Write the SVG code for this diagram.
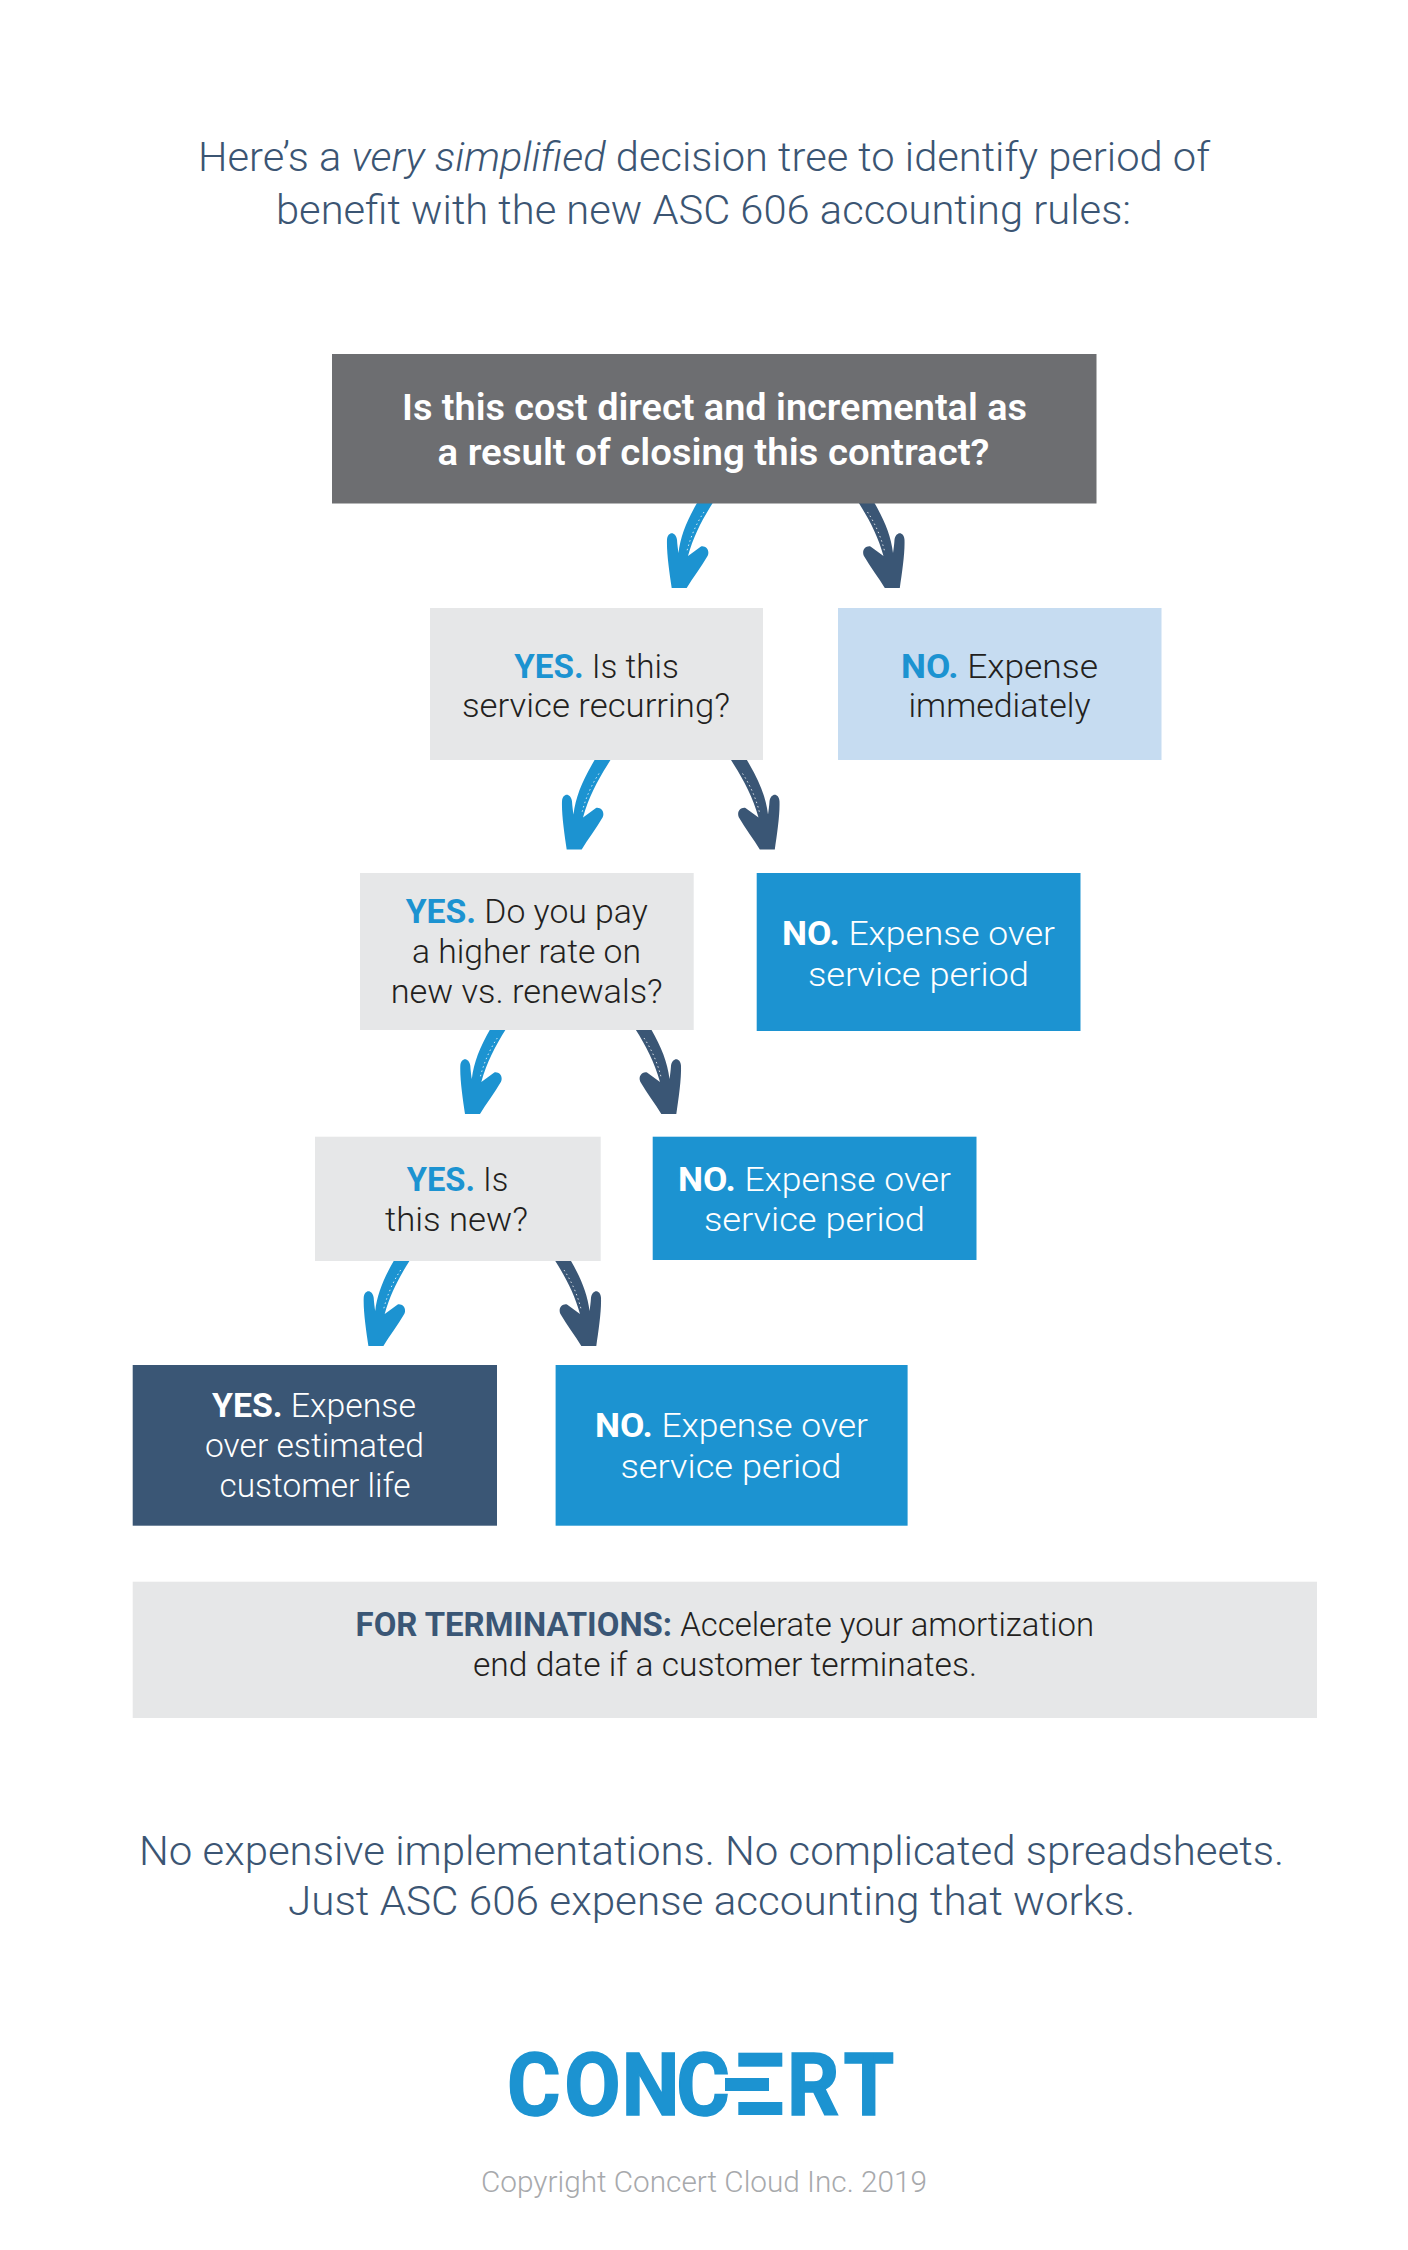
<svg xmlns="http://www.w3.org/2000/svg" width="1408" height="2250" viewBox="0 0 1408 2250">
<style>
text{font-family:Roboto,"Liberation Sans",sans-serif;font-weight:300}
.t{font-size:33px;fill:#231f20}
.w{fill:#fff}
.h{font-size:40px;fill:#3b5573}
.f{font-size:41px;fill:#3b5573}
.q{font-size:36px;font-weight:600;fill:#fff}
.b{font-weight:700}
.by{fill:#1c93d1}
.bn{fill:#3a5675}
.cy{fill:#1c93d1}
.cn{fill:#3a5675}
.gr{fill:#e6e7e8}
.lb{fill:#c6dcf1}
.bl{fill:#1c93d1}
.nv{fill:#3a5675}
.brush{fill:none;stroke:#fff;stroke-width:.8;stroke-dasharray:1.5 3}
</style>
<defs>
<g id="arrow">
<path d="M21,-92L37,-92L32.7,-85C22,-68 13.5,-52 8,-32L21,-41.5C26,-42.5 30,-37.5 27.7,-32.3C21,-21 12.7,-10 6.7,0L-8.3,0C-10.5,-15 -13.5,-35 -13,-48.3C-12.3,-56.5 -4.5,-57 -3,-48.3C-2.7,-43.3 -2,-38.3 -1.5,-35C0.5,-51.7 6.5,-66.7 17,-85Z"/>
<path class="brush" d="M24,-76C16,-64 10,-50 6.5,-35"/>
</g>
</defs>
<rect width="1408" height="2250" fill="#fff"/>
<g id="title">
<text class="h" x="198" y="171" textLength="1012" lengthAdjust="spacingAndGlyphs">Here’s a <tspan font-style="italic">very simplified</tspan> decision tree to identify period of</text>
<text class="h" x="276" y="224" textLength="855" lengthAdjust="spacingAndGlyphs">benefit with the new ASC 606 accounting rules:</text>
</g>
<g id="connectors">
<use href="#arrow" class="cy" transform="translate(680,588)"/>
<use href="#arrow" class="cn" transform="translate(891.5,588) scale(-1,1)"/>
<use href="#arrow" class="cy" transform="translate(575,849.5)"/>
<use href="#arrow" class="cn" transform="translate(766.5,849.5) scale(-1,1)"/>
<use href="#arrow" class="cy" transform="translate(473.3,1114)"/>
<use href="#arrow" class="cn" transform="translate(668,1114) scale(-1,1)"/>
<use href="#arrow" class="cy" transform="translate(376.7,1346)"/>
<use href="#arrow" class="cn" transform="translate(588,1346) scale(-1,1)"/>
</g>
<g id="node-q1">
<rect x="332" y="354" width="764.5" height="149.5" fill="#6d6e71"/>
<text class="q" x="402" y="420" textLength="625" lengthAdjust="spacingAndGlyphs">Is this cost direct and incremental as</text>
<text class="q" x="437.5" y="465" textLength="552" lengthAdjust="spacingAndGlyphs">a result of closing this contract?</text>
</g>
<g id="node-yes1">
<rect x="430" y="608" width="333" height="152" class="gr"/>
<text class="t" x="514.3" y="677.5" textLength="164.5" lengthAdjust="spacingAndGlyphs"><tspan class="b by">YES.</tspan> Is this</text>
<text class="t" x="462" y="717" textLength="268" lengthAdjust="spacingAndGlyphs">service recurring?</text>
</g>
<g id="node-no1">
<rect x="838" y="608" width="323.5" height="152" class="lb"/>
<text class="t" x="901" y="677.5" textLength="197" lengthAdjust="spacingAndGlyphs"><tspan class="b by">NO.</tspan> Expense</text>
<text class="t" x="908.5" y="717" textLength="182" lengthAdjust="spacingAndGlyphs">immediately</text>
</g>
<g id="node-yes2">
<rect x="360" y="873" width="333.7" height="157" class="gr"/>
<text class="t" x="405.7" y="923" textLength="242" lengthAdjust="spacingAndGlyphs"><tspan class="b by">YES.</tspan> Do you pay</text>
<text class="t" x="412" y="963" textLength="229" lengthAdjust="spacingAndGlyphs">a higher rate on</text>
<text class="t" x="390.7" y="1003" textLength="272" lengthAdjust="spacingAndGlyphs">new vs. renewals?</text>
</g>
<g id="node-no2">
<rect x="756.7" y="873" width="323.8" height="158" class="bl"/>
<text class="t w" x="782" y="944.7" textLength="273" lengthAdjust="spacingAndGlyphs"><tspan class="b">NO.</tspan> Expense over</text>
<text class="t w" x="808" y="985.5" textLength="221" lengthAdjust="spacingAndGlyphs">service period</text>
</g>
<g id="node-yes3">
<rect x="315" y="1136.7" width="285.7" height="124.3" class="gr"/>
<text class="t" x="406.7" y="1191" textLength="101.6" lengthAdjust="spacingAndGlyphs"><tspan class="b by">YES.</tspan> Is</text>
<text class="t" x="385" y="1231" textLength="143" lengthAdjust="spacingAndGlyphs">this new?</text>
</g>
<g id="node-no3">
<rect x="652.7" y="1136.7" width="323.8" height="123.3" class="bl"/>
<text class="t w" x="678" y="1191" textLength="273" lengthAdjust="spacingAndGlyphs"><tspan class="b">NO.</tspan> Expense over</text>
<text class="t w" x="704" y="1231" textLength="221" lengthAdjust="spacingAndGlyphs">service period</text>
</g>
<g id="node-yes4">
<rect x="132.7" y="1365" width="364.3" height="160.7" class="nv"/>
<text class="t w" x="212" y="1417" textLength="204" lengthAdjust="spacingAndGlyphs"><tspan class="b">YES.</tspan> Expense</text>
<text class="t w" x="205" y="1457" textLength="219" lengthAdjust="spacingAndGlyphs">over estimated</text>
<text class="t w" x="219.5" y="1497" textLength="191" lengthAdjust="spacingAndGlyphs">customer life</text>
</g>
<g id="node-no4">
<rect x="555.6" y="1365" width="352" height="160.7" class="bl"/>
<text class="t w" x="595" y="1437.3" textLength="273" lengthAdjust="spacingAndGlyphs"><tspan class="b">NO.</tspan> Expense over</text>
<text class="t w" x="620.5" y="1478" textLength="221" lengthAdjust="spacingAndGlyphs">service period</text>
</g>
<g id="node-terminations">
<rect x="132.7" y="1581.7" width="1184.3" height="136.3" class="gr"/>
<text class="t" x="355.6" y="1635.7" textLength="738.4" lengthAdjust="spacingAndGlyphs"><tspan class="b bn">FOR TERMINATIONS:</tspan> Accelerate your amortization</text>
<text class="t" x="473" y="1675.7" textLength="504" lengthAdjust="spacingAndGlyphs">end date if a customer terminates.</text>
</g>
<g id="footer">
<text class="f" x="139" y="1865" textLength="1145" lengthAdjust="spacingAndGlyphs">No expensive implementations. No complicated spreadsheets.</text>
<text class="f" x="288" y="1915" textLength="847" lengthAdjust="spacingAndGlyphs">Just ASC 606 expense accounting that works.</text>
</g>
<g id="logo">
<text transform="translate(507,2115) scale(.94,1)" style="font-weight:700;font-size:87px;fill:#1c93d1" x="0 61 122 180 240 298 358" stroke="#1c93d1" stroke-width="1.5">CONC<tspan fill-opacity="0" stroke-opacity="0">E</tspan>RT</text>
<rect x="738.3" y="2052.7" width="44" height="14" fill="#1c93d1"/>
<rect x="725" y="2078" width="44" height="13" fill="#1c93d1"/>
<rect x="738.3" y="2102" width="44" height="13" fill="#1c93d1"/>
</g>
<g id="copyright">
<text x="481" y="2191.5" textLength="446" lengthAdjust="spacingAndGlyphs" style="font-size:29px;fill:#a7a9ac">Copyright Concert Cloud Inc. 2019</text>
</g>
</svg>
